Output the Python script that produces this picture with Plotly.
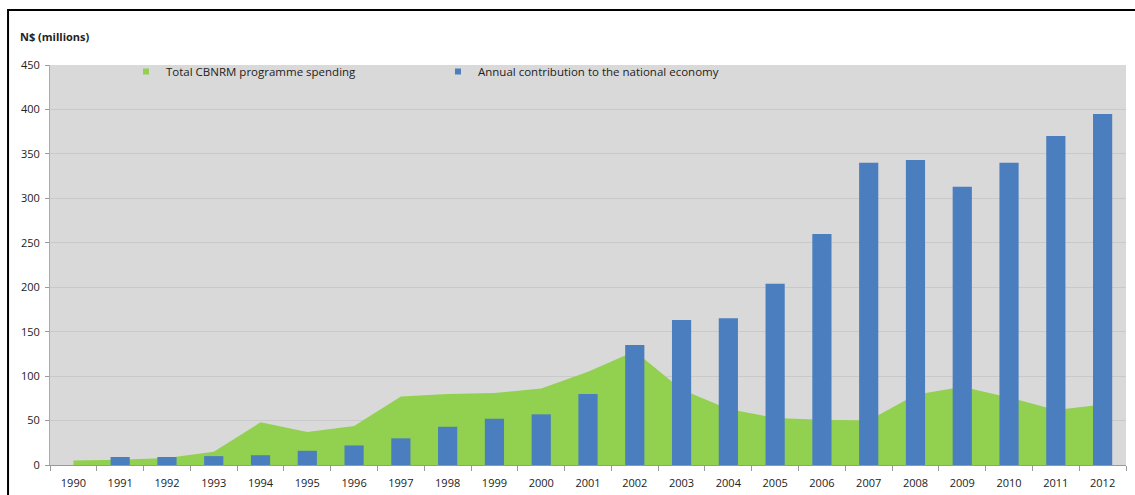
import plotly.graph_objects as go

years = [str(y) for y in range(1990, 2013)]
cbnrm_spending = [5, 6, 8, 15, 48, 37, 44, 77, 80, 81, 86, 105, 128, 85, 63, 53, 51, 50, 79, 88, 76, 62, 68]
contribution = [None, 9, 9, 10, 11, 16, 22, 30, 43, 52, 57, 80, 135, 163, 165, 204, 260, 340, 343, 313, 340, 370, 395]
y_ticks = [0, 50, 100, 150, 200, 250, 300, 350, 400, 450]
series_names = ["Total CBNRM programme spending", "Annual contribution to the national economy"]

FONT = "Open Sans"
GREEN = "#92d050"
BLUE = "#4a7ebf"
x_range = [-0.5, len(years) - 0.5]

fig = go.Figure()
# area (base subplot)
fig.add_trace(go.Scatter(
    x=years, y=cbnrm_spending, name=series_names[0], showlegend=False,
    mode="lines", line=dict(width=0, color=GREEN),
    fill="tozeroy", fillcolor=GREEN, xaxis="x", yaxis="y",
))
# bars on an overlaying subplot so they sit on top of the area
fig.add_trace(go.Bar(
    x=years, y=contribution, name=series_names[1], showlegend=False,
    marker=dict(color=BLUE, line=dict(width=0)), xaxis="x2", yaxis="y2",
))
# legend entries with small square keys
for nm, col in zip(series_names, [GREEN, BLUE]):
    fig.add_trace(go.Scatter(
        x=[None], y=[None], name=nm, mode="markers",
        marker=dict(symbol="square", size=6, color=col), showlegend=True,
    ))

fig.update_layout(
    width=1135, height=495,
    margin=dict(l=50, r=9, t=65, b=30, autoexpand=False),
    paper_bgcolor="white",
    plot_bgcolor="#d9d9d9",
    bargap=0.59,
    font=dict(family=FONT, size=11, color="#222222"),
    showlegend=True,
    legend=dict(
        orientation="h", x=0.0706, y=1.02, xanchor="left", yanchor="top",
        bgcolor="rgba(0,0,0,0)", font=dict(size=11.5, color="#222222"),
        entrywidth=267, entrywidthmode="pixels", itemwidth=30,
        traceorder="normal",
    ),
    xaxis=dict(
        type="category", categoryorder="array", categoryarray=years, range=x_range,
        showgrid=False, ticks="outside", tickson="boundaries",
        ticklen=5, tickcolor="#999999", showline=True, linecolor="#999999",
        linewidth=1, tickfont=dict(size=11, color="#222222"), automargin=False,
        ticklabelstandoff=8,
    ),
    yaxis=dict(
        range=[0, 450], tickvals=y_ticks, showgrid=True, gridcolor="#c9c9c9",
        gridwidth=1, ticks="outside", ticklen=4, tickcolor="#999999",
        showline=True, linecolor="#aaaaaa", linewidth=1, zeroline=False,
        tickfont=dict(size=11, color="#222222"), automargin=False,
        ticklabelstandoff=3,
    ),
    xaxis2=dict(
        type="category", categoryorder="array", categoryarray=years, range=x_range,
        overlaying="x", visible=False, showgrid=False,
    ),
    yaxis2=dict(
        range=[0, 450], overlaying="y", visible=False, showgrid=False, zeroline=False,
    ),
    annotations=[dict(
        text="<b>N$ (millions)</b>", xref="paper", yref="paper",
        x=-0.0297, y=1.07, xanchor="left", yanchor="middle", showarrow=False,
        font=dict(size=11, color="#222222", family=FONT),
    )],
    shapes=[dict(
        type="rect", xref="paper", yref="paper",
        x0=-0.039, x1=1.05, y0=-0.2, y1=1.1375,
        line=dict(color="black", width=2), fillcolor="rgba(0,0,0,0)", layer="below",
    )],
)

fig.write_html(
    "out.html",
    config={"displayModeBar": False},
    post_script="document.body.style.margin='0';document.body.style.overflow='hidden';",
)
